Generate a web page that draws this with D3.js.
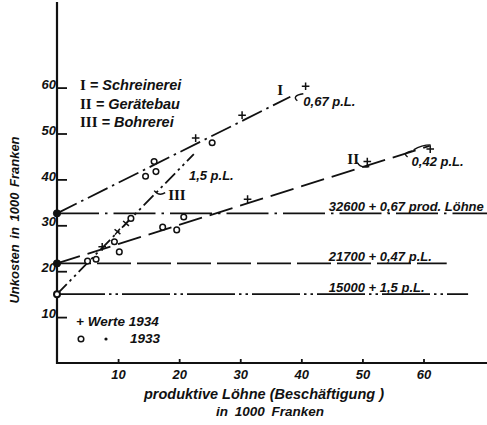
<!DOCTYPE html>
<html><head><meta charset="utf-8">
<script src="https://cdn.jsdelivr.net/npm/d3@7"></script>
<style>
body{margin:0;background:#fff;}
svg{display:block;}
.t{font-family:"Liberation Sans","DejaVu Sans",sans-serif;font-style:italic;font-weight:bold;fill:#111;}
.r{font-family:"Liberation Serif","DejaVu Serif",serif;font-weight:bold;fill:#111;font-style:normal;}
</style></head>
<body>
<script>
// ---- data ----
const xTicks = [10, 20, 30, 40, 50, 60];
const yTicks = [10, 20, 30, 40, 50, 60];
const lineNames = ["I", "II", "III"];
const lineStart = [[0, 32.6], [0, 21.7], [0, 15]];
const lineEnd = [[38.2, 58.0], [61.0, 47.3], [22.4, 45.5]];
const baseLevels = [32.6, 21.7, 15];
const baseEnds = [70.5, 63.8, 67.3];
const baseLabels = ["32600 + 0,67 prod. Löhne", "21700 + 0,47 p.L.", "15000 + 1,5 p.L."];
const slopeLabels = ["0,67 p.L.", "0,42 p.L.", "1,5 p.L."];
const legendNames = ["Schreinerei", "Gerätebau", "Bohrerei"];
const ptX = [22.7, 25.4, 15.9, 14.5, 16.2, 12.1, 11.3, 9.9, 7.4, 9.4, 10.2, 5.0, 6.4, 17.3, 19.6, 20.75, 40.7, 30.3, 31.2, 50.8, 61.1];
const ptY = [49.0, 48.0, 43.9, 40.7, 41.7, 31.5, 30.4, 28.6, 25.3, 26.4, 24.2, 22.2, 22.6, 29.6, 29.0, 31.8, 60.3, 54.0, 35.7, 43.9, 46.6];
const ptKind = ["plus","circle","circle","circle","circle","circle","cross","cross","plus","circle","circle","circle","circle","circle","circle","circle","plus","plus","plus","plus","plus"];

// ---- layout ----
const W = 487, H = 425;
const x = d3.scaleLinear().domain([0, 60]).range([57, 423.5]);
const y = d3.scaleLinear().domain([0, 60]).range([363, 87.6]);
const dashes = ["22,5,2.5,5", "24,8", "14,4,2.5,4,2.5,4"];
const baseDashes = ["42,6,2.5,6", "34,6", "48,4,2.5,4,2.5,4"];

const svg = d3.select("body").append("svg").attr("width", W).attr("height", H);
const ink = "#111";

// axes
const yAxis = d3.axisLeft(y).tickValues(yTicks).tickSizeInner(-10).tickSizeOuter(0).tickPadding(1);
const gy = svg.append("g").attr("transform", `translate(${x(0)},0)`).call(yAxis);
gy.select(".domain").remove();
gy.selectAll("line").attr("stroke", ink).attr("stroke-width", 1.8);
gy.selectAll("text").attr("class", "t").attr("font-size", 13).attr("dy", "0.05em").attr("font-family", null);

const xAxis = d3.axisBottom(x).tickValues(xTicks).tickSizeInner(-4).tickSizeOuter(0).tickPadding(7);
const gx = svg.append("g").attr("transform", `translate(0,${y(0)})`).call(xAxis);
gx.select(".domain").remove();
gx.selectAll("line").attr("stroke", ink).attr("stroke-width", 1.8);
gx.selectAll("text").attr("class", "t").attr("font-size", 13).attr("font-family", null);

svg.append("line").attr("x1", x(0)).attr("x2", x(0)).attr("y1", 2).attr("y2", y(0) + 1)
  .attr("stroke", ink).attr("stroke-width", 2.2);
svg.append("line").attr("x1", x(0) - 1).attr("x2", W).attr("y1", y(0)).attr("y2", y(0))
  .attr("stroke", ink).attr("stroke-width", 2.2);

// horizontal base lines
baseLevels.forEach((v, i) => {
  svg.append("line").attr("x1", x(0)).attr("x2", x(baseEnds[i])).attr("y1", y(v)).attr("y2", y(v))
    .attr("stroke", ink).attr("stroke-width", 1.8).attr("stroke-dasharray", baseDashes[i]);
  svg.append("text").attr("class", "t").attr("font-size", 13)
    .attr("x", x(44.5)).attr("y", y(v) - 2).text(baseLabels[i]);
});

// sloped lines
lineNames.forEach((n, i) => {
  svg.append("line").attr("x1", x(lineStart[i][0])).attr("y1", y(lineStart[i][1]))
    .attr("x2", x(lineEnd[i][0])).attr("y2", y(lineEnd[i][1]))
    .attr("stroke", ink).attr("stroke-width", 1.8).attr("stroke-dasharray", dashes[i]);
});

// intercept dots
lineStart.forEach((p, i) => {
  svg.append("circle").attr("cx", x(p[0])).attr("cy", y(p[1])).attr("r", i < 2 ? 3.6 : 3)
    .attr("fill", i < 2 ? ink : "#fff").attr("stroke", ink).attr("stroke-width", i < 2 ? 1 : 2);
});

// points
ptX.forEach((vx, i) => {
  const cx = x(vx), cy = y(ptY[i]), k = ptKind[i];
  if (k === "circle") {
    svg.append("circle").attr("cx", cx).attr("cy", cy).attr("r", 2.8)
      .attr("fill", "#fff").attr("stroke", ink).attr("stroke-width", 1.5);
  } else {
    svg.append("path").attr("d", "M-3.8,0H3.8M0,-3.8V3.8")
      .attr("transform", `translate(${cx},${cy})` + (k === "cross" ? " rotate(40)" : ""))
      .attr("stroke", ink).attr("stroke-width", 1.5).attr("fill", "none");
  }
});

// numeral labels on lines
const e0 = [x(lineEnd[0][0]), y(lineEnd[0][1])];
svg.append("text").attr("class", "r").attr("font-size", 15).attr("x", e0[0] - 13).attr("y", e0[1] - 2).text("I");
svg.append("text").attr("class", "t").attr("font-size", 13).attr("x", e0[0] + 13).attr("y", e0[1] + 9).text(slopeLabels[0]);
svg.append("path").attr("d", `M${e0[0] + 13},${e0[1] - 3} Q${e0[0] + 1},${e0[1] - 1} ${e0[0] + 7},${e0[1] + 4}`)
  .attr("fill", "none").attr("stroke", ink).attr("stroke-width", 1.4);

const p2 = [x(50.8), y(21.7 + 0.42 * 50.8)];
svg.append("text").attr("class", "r").attr("font-size", 15).attr("x", p2[0] - 20).attr("y", p2[1] - 1).text("II");
svg.append("path").attr("d", `M${p2[0] - 10},${p2[1] - 3} Q${p2[0] - 7},${p2[1] + 3} ${p2[0] + 2},${p2[1] + 1}`)
  .attr("fill", "none").attr("stroke", ink).attr("stroke-width", 1.4);
const e1 = [x(lineEnd[1][0]), y(lineEnd[1][1])];
svg.append("text").attr("class", "t").attr("font-size", 13).attr("x", e1[0] - 18).attr("y", e1[1] + 20).text(slopeLabels[1]);
svg.append("path").attr("d", `M${e1[0] - 17},${e1[1] + 5} Q${e1[0] - 28},${e1[1] + 7} ${e1[0] - 22},${e1[1] + 11} M${e1[0] - 16},${e1[1] + 4} Q${e1[0] - 8},${e1[1] - 1} ${e1[0] + 1},${e1[1] - 1}`)
  .attr("fill", "none").attr("stroke", ink).attr("stroke-width", 1.4);

const p3 = [x(16.4), y(15 + (lineEnd[2][1] - 15) / lineEnd[2][0] * 16.4)];
svg.append("text").attr("class", "r").attr("font-size", 15).attr("x", p3[0] + 11).attr("y", p3[1] + 8).text("III");
svg.append("path").attr("d", `M${p3[0] - 3},${p3[1] - 1} Q${p3[0] + 2},${p3[1] + 5} ${p3[0] + 8},${p3[1] + 1}`)
  .attr("fill", "none").attr("stroke", ink).attr("stroke-width", 1.4);
svg.append("text").attr("class", "t").attr("font-size", 13).attr("x", x(21.6)).attr("y", y(39.8)).text(slopeLabels[2]);

// legend (top-left)
const legNum = ["I", "II", "III"];
legendNames.forEach((n, i) => {
  const t = svg.append("text").attr("x", 80).attr("y", 90 + i * 18.5);
  t.append("tspan").attr("class", "r").attr("font-size", 15).text(legNum[i]);
  t.append("tspan").attr("class", "t").attr("font-size", 14.5).text(" = " + n);
});

// legend (bottom-left)
svg.append("text").attr("class", "t").attr("font-size", 13.5).attr("x", 76).attr("y", 326).text("+ Werte 1934");
svg.append("circle").attr("cx", 81).attr("cy", 339).attr("r", 2.8).attr("fill", "#fff").attr("stroke", ink).attr("stroke-width", 1.5);
svg.append("circle").attr("cx", 106).attr("cy", 339).attr("r", 1.6).attr("fill", ink);
svg.append("text").attr("class", "t").attr("font-size", 13.5).attr("x", 130).attr("y", 343).text("1933");

// axis titles
svg.append("text").attr("class", "t").attr("font-size", 14.5).attr("text-anchor", "middle")
  .attr("x", 264).attr("y", 399).text("produktive Löhne (Beschäftigung )");
svg.append("text").attr("class", "t").attr("font-size", 13.5).attr("text-anchor", "middle")
  .attr("x", 270).attr("y", 416).attr("word-spacing", 3).text("in 1000 Franken");
svg.append("text").attr("class", "t").attr("font-size", 13).attr("text-anchor", "middle")
  .attr("transform", "translate(19,220) rotate(-90)").attr("word-spacing", 2).text("Unkosten in 1000 Franken");
</script>
</body></html>
